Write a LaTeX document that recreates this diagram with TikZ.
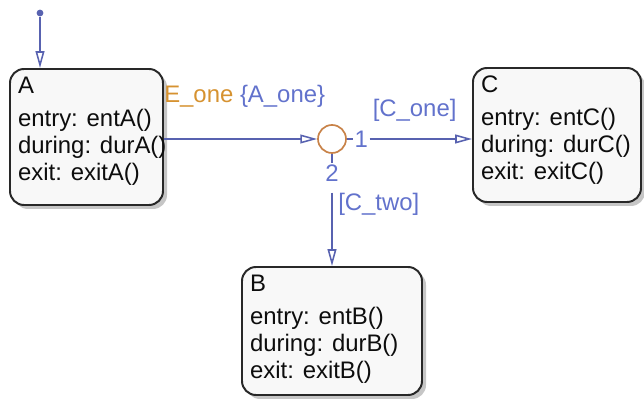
\documentclass[tikz,border=0pt]{standalone}
\usepackage{fontspec}
\setmainfont{Liberation Sans}
\usetikzlibrary{arrows.meta, positioning, calc, shadows}

\definecolor{transblue}{RGB}{88,98,176}
\definecolor{labelblue}{RGB}{98,114,204}
\definecolor{eventorange}{RGB}{214,146,48}
\definecolor{junctionorange}{RGB}{200,130,72}
\definecolor{statefill}{RGB}{248,248,248}
\definecolor{stateborder}{RGB}{40,40,40}

\begin{document}
\begin{tikzpicture}[font=\fontsize{17}{19.2}\selectfont,
    >={Triangle[open, length=0.42cm, width=0.22cm]},
    state/.style={draw=stateborder, line width=1.4pt, fill=statefill, rounded corners=0.35cm,
      drop shadow={shadow xshift=0.1cm, shadow yshift=-0.1cm, opacity=0.45}},
    actions/.style={anchor=north west, align=left, inner xsep=0.22cm, inner ysep=0.22cm, text=black!95},
    trans/.style={draw=transblue, line width=1.1pt},
    lbl/.style={text=labelblue, inner sep=1pt},
    junction/.style={circle, draw=junctionorange, line width=1.2pt, minimum size=0.7cm, inner sep=0pt},
    dot/.style={circle, fill=transblue, minimum size=0.17cm, inner sep=0pt}]
        \useasboundingbox (0,0) rectangle (16.1,10);

        % states
        \node (A) [state, minimum width=3.825cm, minimum height=3.4cm] at (2.1625,6.575) {};
        \node (C) [state, minimum width=4.2cm, minimum height=3.35cm] at (13.925,6.625) {};
        \node (B) [state, minimum width=4.5cm, minimum height=3.2cm] at (8.3,1.725) {};
        \node [actions] at (A.north west) {A\\[4pt]entry: entA()\\during: durA()\\exit: exitA()};
        \node [actions] at (C.north west) {C\\[4pt]entry: entC()\\during: durC()\\exit: exitC()};
        \node [actions] at (B.north west) {B\\[4pt]entry: entB()\\during: durB()\\exit: exitB()};

        % junction and its exits
        \node (J) [junction] at (8.3,6.525) {};
        \node (n1) [lbl, right=0.15cm of J] {1};
        \node (n2) [lbl, text depth=0.25cm, below=0.22cm of J] {2};
        \node (init) [dot] at (1.0,9.675) {};

        \draw[trans, ->] (init) -- (init |- A.north);
        \draw[trans, ->] (A.east |- J) -- (J);
        \draw[trans] (J) -- (n1);
        \draw[trans, ->] (n1) -- (C.west |- n1);
        \draw[trans] (J) -- (n2);
        \draw[trans, ->] (n2) -- (B.north);

        % transition labels
        \node (evt) [anchor=base west, inner sep=0pt] at ($(A.east |- J)+(0,0.9)$)
          {\textcolor{eventorange}{E\_one} \textcolor{labelblue}{\{A\_one\}}};
        \node (cone) [lbl, anchor=base] at ($(n1.east)!0.44!(C.west |- n1)+(0,0.55)$) {[C\_one]};
        \node (ctwo) [lbl, anchor=base west] at ($(n2.south)+(0.115,-0.45)$) {[C\_two]};
    \end{tikzpicture}
\end{document}
